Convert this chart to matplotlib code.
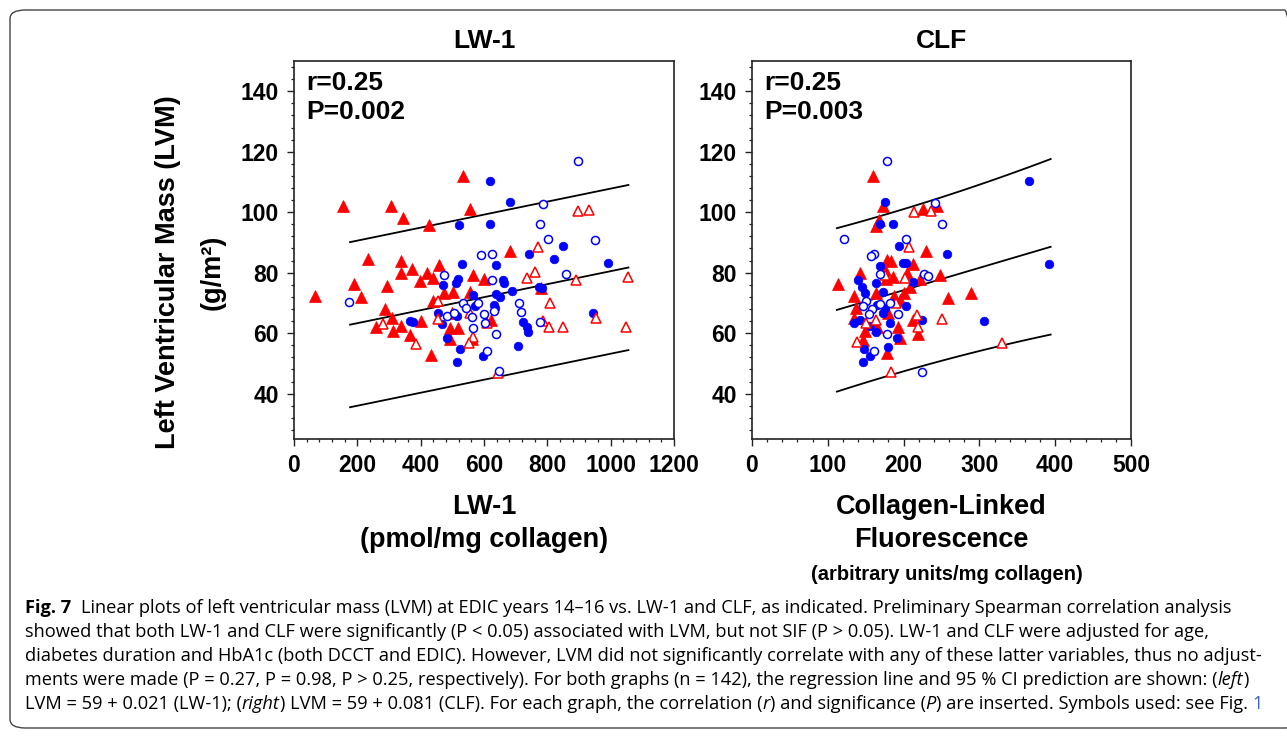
import matplotlib
matplotlib.use("Agg")
import matplotlib.pyplot as plt
from matplotlib.ticker import MultipleLocator
from matplotlib.patches import FancyBboxPatch
import numpy as np

W, H = 1287, 736

# ---------------- data: LW-1 panel ----------------
lw1_fred_x = [535, 156, 305, 343, 427, 556, 235, 337, 338, 372, 419, 458, 398, 440, 190, 295, 66, 212, 474, 503,
              556, 438, 566, 600, 287, 308, 259, 314, 337, 400, 366, 434, 499, 493, 519, 493, 563, 682, 780, 622]
lw1_fred_y = [112.0, 102.1, 102.1, 98.0, 95.8, 101.0, 84.6, 83.7, 80.0, 81.1, 80.0, 82.7, 77.3, 78.4, 76.1, 75.7, 72.2,
              71.9, 73.2, 73.6, 73.6, 70.8, 79.2, 77.8, 67.9, 64.9, 61.9, 60.8, 62.4, 63.9, 59.5, 52.9, 66.6, 61.6,
              61.6, 58.0, 58.0, 87.2, 74.8, 64.4]
lw1_ored_x = [456, 456, 280, 385, 556, 564, 554, 608, 896, 932, 769, 761, 735, 890, 1054, 808, 954, 787, 805, 850,
              1048, 645]
lw1_ored_y = [70.6, 64.7, 62.9, 56.5, 66.8, 58.8, 56.9, 63.5, 100.4, 100.6, 88.6, 80.1, 78.3, 77.6, 78.6, 69.9, 65.1,
              64.1, 62.1, 61.9, 61.9, 46.7]
lw1_fblue_x = [619, 521, 619, 531, 519, 510, 469, 566, 570, 454, 514, 366, 377, 468, 484, 524, 516, 596, 682, 743,
               850, 821, 992, 637, 659, 663, 687, 638, 650, 775, 782, 631, 635, 722, 735, 738, 945, 706]
lw1_fblue_y = [110.3, 95.8, 96.0, 83.0, 77.8, 76.5, 75.8, 72.5, 69.0, 66.8, 65.7, 64.1, 63.7, 63.0, 58.3, 54.7, 50.6,
               52.4, 103.4, 86.2, 88.9, 84.5, 83.3, 82.5, 77.6, 76.7, 74.1, 73.0, 72.1, 75.4, 74.8, 69.3, 68.2, 63.8,
               62.2, 60.5, 66.6, 55.8]
lw1_oblue_x = [589, 626, 475, 175, 533, 542, 582, 562, 482, 506, 601, 564, 603, 610, 898, 785, 778, 803, 950, 624,
               859, 711, 717, 633, 638, 777, 647]
lw1_oblue_y = [85.7, 86.1, 79.2, 70.3, 69.9, 68.2, 69.9, 65.2, 65.7, 66.6, 66.3, 61.7, 63.5, 54.2, 116.9, 102.6, 96.1,
               91.3, 90.9, 77.6, 79.6, 69.9, 66.9, 67.4, 59.7, 63.8, 47.5]
lw1_fit = (59.0, 0.0215)          # intercept, slope
lw1_band = (27.3, 0.0)            # prediction band half-width terms
lw1_line_x = [177, 1056]
lw1_xmean = 600

# ---------------- data: CLF panel ----------------
clf_fred_x = [159, 173, 225, 244, 168, 164, 230, 178, 184, 212, 175, 142, 205, 248, 186, 177, 222, 113, 209, 134,
              289, 258, 164, 200, 187, 195, 137, 180, 134, 165, 193, 212, 149, 195, 219, 146, 178]
clf_fred_y = [112.0, 102.1, 101.0, 102.1, 97.4, 95.4, 87.2, 84.2, 83.7, 82.8, 80.9, 80.0, 80.0, 79.2, 78.7, 77.8,
              77.9, 76.3, 75.4, 72.3, 73.4, 71.5, 73.4, 73.2, 72.3, 71.0, 68.2, 66.6, 64.9, 62.1, 62.1, 64.4, 60.8,
              58.3, 59.6, 57.7, 53.3]
clf_ored_x = [214, 236, 207, 175, 202, 190, 250, 218, 219, 138, 184, 164, 151, 330]
clf_ored_y = [100.2, 100.5, 88.6, 79.2, 78.1, 69.9, 64.7, 66.0, 61.9, 57.2, 47.3, 64.4, 63.3, 56.6]
clf_fblue_x = [366, 392, 306, 175, 186, 169, 194, 257, 199, 203, 169, 140, 145, 149, 173, 164, 213, 203, 165, 173,
               224, 182, 134, 156, 164, 191, 148, 156, 147, 180, 142, 175]
clf_fblue_y = [110.3, 82.8, 64.0, 103.5, 96.1, 96.0, 88.9, 86.2, 83.1, 83.3, 82.2, 77.6, 75.4, 73.2, 73.7, 76.5,
               77.0, 69.1, 69.3, 66.6, 64.4, 63.5, 63.5, 62.4, 60.5, 58.3, 54.7, 52.5, 50.6, 55.5, 64.4, 68.2]
clf_oblue_x = [178, 122, 250, 203, 161, 157, 227, 232, 169, 193, 178, 161, 224, 151, 158, 169, 147, 154, 182, 241]
clf_oblue_y = [116.9, 91.3, 96.1, 91.0, 86.1, 85.6, 79.5, 79.0, 79.6, 66.3, 59.7, 54.2, 47.3, 70.5, 68.0, 69.5,
               69.0, 66.5, 69.9, 102.9]
clf_fit = (59.4, 0.074)
clf_band = (26.8, 4.86e-5)
clf_line_x = [112, 394]
clf_xmean = 180

# ---------------- text ----------------
panel_titles = ["LW-1", "CLF"]
stats_text = [("r=0.25", "P=0.002"), ("r=0.25", "P=0.003")]
y_ticks = [40, 60, 80, 100, 120, 140]
lw1_xticks = [0, 200, 400, 600, 800, 1000, 1200]
clf_xticks = [0, 100, 200, 300, 400, 500]

# caption: each line is a list of (text, italic) segments
caption_lines = [
    [("Linear plots of left ventricular mass (LVM) at EDIC years 14\u201316 vs. LW-1 and CLF, as indicated. Preliminary Spearman correlation analysis", False)],
    [("showed that both LW-1 and CLF were significantly (P < 0.05) associated with LVM, but not SIF (P > 0.05). LW-1 and CLF were adjusted for age,", False)],
    [("diabetes duration and HbA1c (both DCCT and EDIC). However, LVM did not significantly correlate with any of these latter variables, thus no adjust-", False)],
    [("ments were made (P = 0.27, P = 0.98, P > 0.25, respectively). For both graphs (n = 142), the regression line and 95 % CI prediction are shown: (", False),
     ("left", True), (")", False)],
    [("LVM = 59 + 0.021 (LW-1); (", False), ("right", True), (") LVM = 59 + 0.081 (CLF). For each graph, the correlation (", False),
     ("r", True), (") and significance (", False), ("P", True), (") are inserted. Symbols used: see Fig.", False)],
]

plt.rcParams['font.family'] = ['Liberation Sans', 'DejaVu Sans']

fig = plt.figure(figsize=(W / 100, H / 100), dpi=100)
fig.patch.set_facecolor('white')


def fx(x):
    return x / W


def fy(y):
    return 1 - y / H


# border
border = FancyBboxPatch((fx(10), fy(728)), fx(1300) - fx(10), fy(10) - fy(728),
                        boxstyle="round,pad=0,rounding_size=0.012", transform=fig.transFigure,
                        facecolor='none', edgecolor='#444444', linewidth=1.0, clip_on=False)
fig.patches.append(border)

RED = '#ff0000'
BLUE = '#0000ff'

ax_top, ax_bot = 61, 439
axes_px = [(294, 674), (752, 1131)]
panels = [
    dict(fred=(lw1_fred_x, lw1_fred_y), ored=(lw1_ored_x, lw1_ored_y), fblue=(lw1_fblue_x, lw1_fblue_y),
         oblue=(lw1_oblue_x, lw1_oblue_y), fit=lw1_fit, band=lw1_band, lx=lw1_line_x, xm=lw1_xmean,
         xlim=(0, 1200), xticks=lw1_xticks, xminor=40),
    dict(fred=(clf_fred_x, clf_fred_y), ored=(clf_ored_x, clf_ored_y), fblue=(clf_fblue_x, clf_fblue_y),
         oblue=(clf_oblue_x, clf_oblue_y), fit=clf_fit, band=clf_band, lx=clf_line_x, xm=clf_xmean,
         xlim=(0, 500), xticks=clf_xticks, xminor=20),
]

for i, p in enumerate(panels):
    x0, x1 = axes_px[i]
    ax = fig.add_axes([fx(x0), fy(ax_bot), fx(x1) - fx(x0), fy(ax_top) - fy(ax_bot)])
    ax.set_xlim(*p['xlim'])
    ax.set_ylim(25, 150)
    ax.set_xticks(p['xticks'])
    ax.set_yticks(y_ticks)
    ax.xaxis.set_minor_locator(MultipleLocator(p['xminor']))
    ax.yaxis.set_minor_locator(MultipleLocator(4))
    ax.tick_params(which='major', direction='out', length=5, width=1.0, labelsize=16.5, pad=6, color='#222222')
    ax.tick_params(which='minor', direction='out', length=2.5, width=0.9, color='#222222')
    ax.tick_params(top=False, right=False, which='both')
    for lab in ax.get_xticklabels() + ax.get_yticklabels():
        lab.set_fontweight('bold')
    for s in ax.spines.values():
        s.set_linewidth(1.2)
        s.set_color('#222222')

    # regression line and prediction band
    b0, b1 = p['fit']
    a, c = p['band']
    xs = np.linspace(p['lx'][0], p['lx'][1], 50)
    mid = b0 + b1 * xs
    hw = a + c * (xs - p['xm']) ** 2
    for yy in (mid + hw, mid, mid - hw):
        ax.plot(xs, yy, color='black', linewidth=1.3, zorder=2)

    ax.plot(*p['fred'], linestyle='none', marker='^', markersize=8.5, markerfacecolor=RED,
            markeredgecolor=RED, markeredgewidth=0.5, zorder=3)
    ax.plot(*p['fblue'], linestyle='none', marker='o', markersize=6.2, markerfacecolor=BLUE,
            markeredgecolor=BLUE, markeredgewidth=0.5, zorder=4)
    ax.plot(*p['ored'], linestyle='none', marker='^', markersize=7.5, markerfacecolor='white',
            markeredgecolor=RED, markeredgewidth=1.1, zorder=5)
    ax.plot(*p['oblue'], linestyle='none', marker='o', markersize=5.8, markerfacecolor='white',
            markeredgecolor=BLUE, markeredgewidth=1.1, zorder=6)

    ax.set_title(panel_titles[i], fontsize=19, fontweight='bold', pad=9)
    ax.text(12 / (x1 - x0), 1 - (83 - ax_top) / (ax_bot - ax_top), stats_text[i][0], transform=ax.transAxes,
            fontsize=19, fontweight='bold', va='center', ha='left')
    ax.text(12 / (x1 - x0), 1 - (112 - ax_top) / (ax_bot - ax_top), stats_text[i][1], transform=ax.transAxes,
            fontsize=19, fontweight='bold', va='center', ha='left')

# axis labels
fig.text(fx(168), fy(272), "Left Ventricular Mass (LVM)", rotation=90, ha='center', va='center',
         fontsize=19.5, fontweight='bold')
fig.text(fx(213), fy(272), "(g/m\u00b2)", rotation=90, ha='center', va='center', fontsize=19.5, fontweight='bold')
fig.text(fx(484), fy(507), "LW-1", ha='center', va='center', fontsize=19.5, fontweight='bold')
fig.text(fx(484), fy(540), "(pmol/mg collagen)", ha='center', va='center', fontsize=19.5, fontweight='bold')
fig.text(fx(941), fy(507), "Collagen-Linked", ha='center', va='center', fontsize=19.5, fontweight='bold')
fig.text(fx(941), fy(540), "Fluorescence", ha='center', va='center', fontsize=19.5, fontweight='bold')
fig.text(fx(947), fy(574), "(arbitrary units/mg collagen)", ha='center', va='center', fontsize=14.5,
         fontweight='bold')

# caption
renderer = fig.canvas.get_renderer()
cap_family = ['Open Sans', 'DejaVu Sans']


def measure(txt, fs, weight='normal', style='normal'):
    t = fig.text(0, 0, txt, fontsize=fs, fontweight=weight, fontstyle=style, family=cap_family)
    w = t.get_window_extent(renderer).width
    t.remove()
    return w


def seg_width(txt, fs, style):
    # width including leading/trailing spaces, measured with guard characters
    return measure("|" + txt + "|", fs, style=style) - 2 * measure("|", fs, style=style)


def draw_caption(fs):
    arts = []
    y0 = 613
    t_fig = fig.text(fx(25), fy(y0), "Fig. 7", fontsize=fs, fontweight='bold', family=cap_family,
                     ha='left', va='baseline')
    arts.append(t_fig)
    wfig = measure("Fig. 7", fs, weight='bold')
    gap = fs * 0.75
    ends = []
    for k, segs in enumerate(caption_lines):
        x = 25 + (wfig + gap if k == 0 else 0)
        for txt, ital in segs:
            style = 'italic' if ital else 'normal'
            t = fig.text(fx(x), fy(y0 + 24 * k), txt, fontsize=fs, fontweight='normal', fontstyle=style,
                         family=cap_family, ha='left', va='baseline')
            arts.append(t)
            x += seg_width(txt, fs, style)
        ends.append(x)
    return arts, ends


arts, ends = draw_caption(11.0)
target = 1262          # right end of the third caption line
fs_new = 11.0 * (target - 25) / (ends[2] - 25)
for a_ in arts:
    a_.remove()
arts, ends = draw_caption(fs_new)

space_w = seg_width(" ", fs_new, 'normal')
fig.text(fx(ends[-1] + space_w), fy(613 + 24 * 4), "1", fontsize=fs_new, family=cap_family,
         fontweight='normal', color='#3b5fd0', ha='left', va='baseline')

fig.savefig("out.png", dpi=100)
